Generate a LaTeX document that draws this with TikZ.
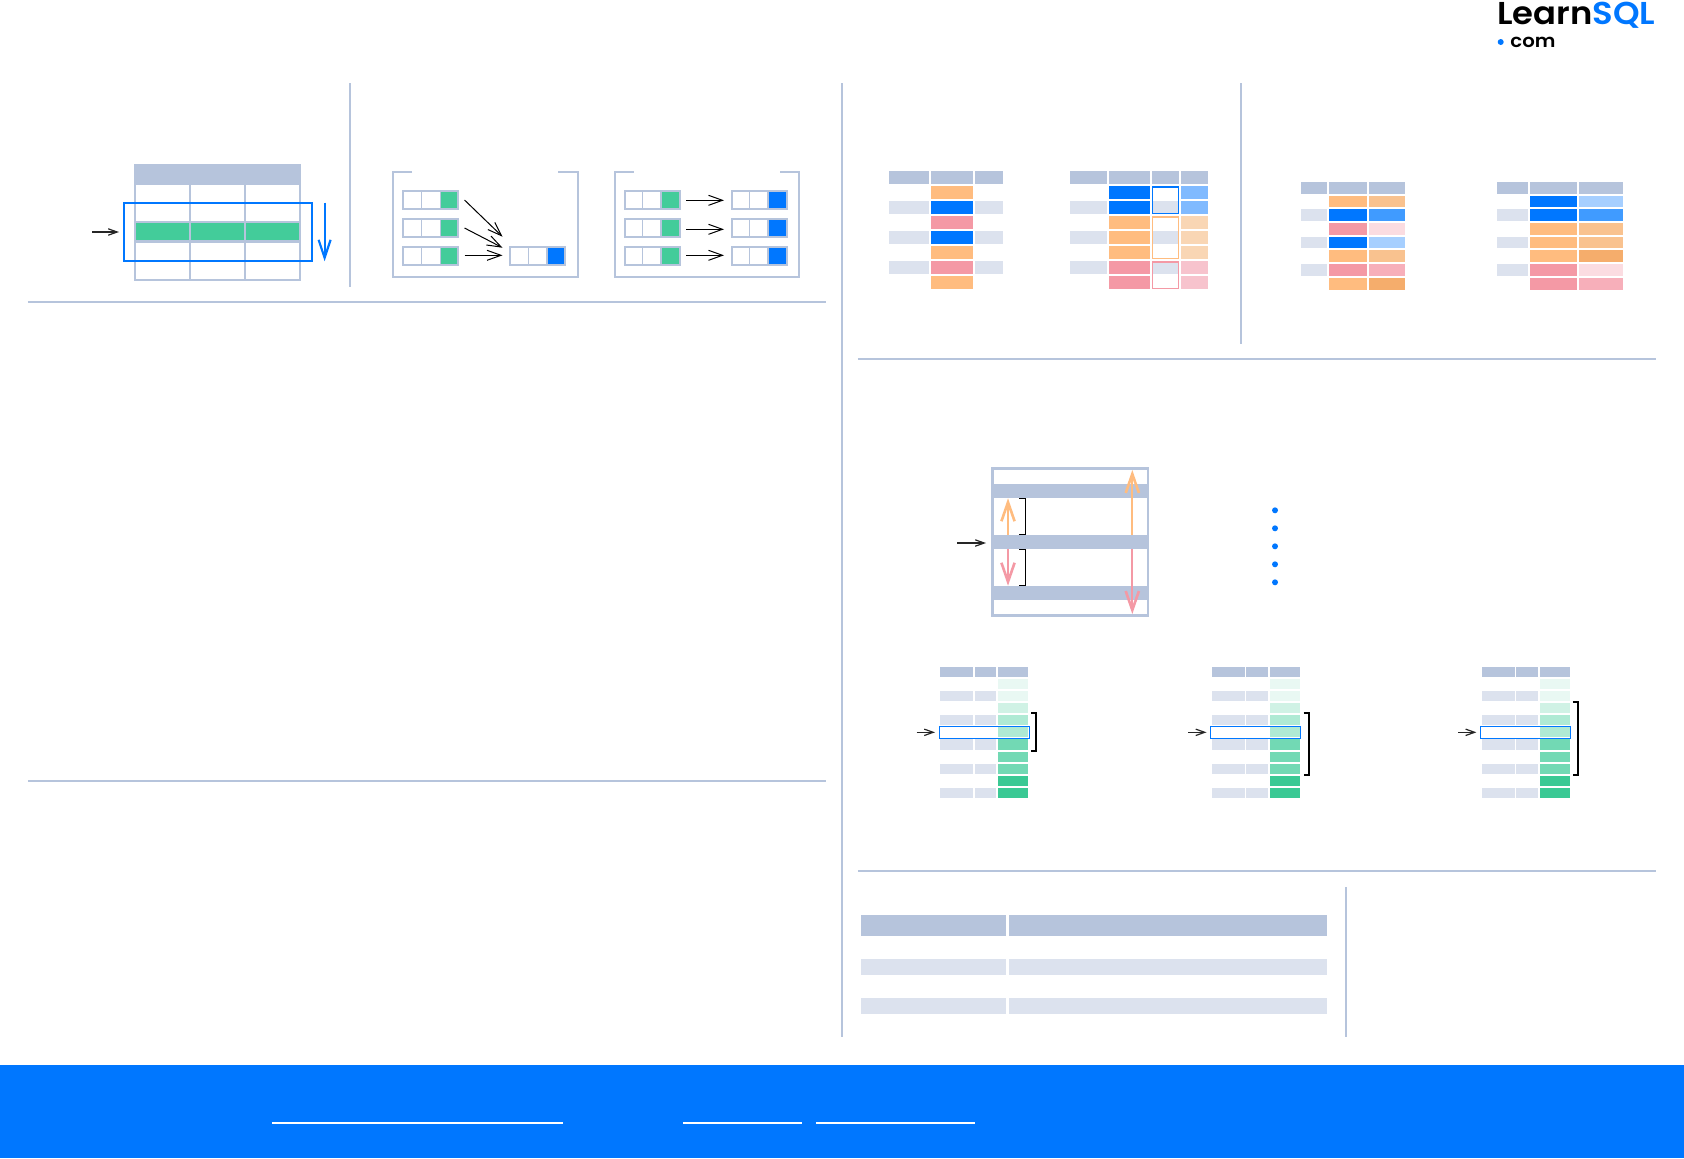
\documentclass[tikz,border=0pt]{standalone}
\usepackage{fontspec}
\usetikzlibrary{arrows.meta}
\newfontfamily\logofont[BoldFont=Poppins SemiBold,BoldFeatures={FakeStretch=1.07}]{Poppins}
\definecolor{hd}{HTML}{B6C4DC}
\definecolor{lt}{HTML}{DCE2EE}
\definecolor{grn}{HTML}{43CC9A}
\definecolor{blu}{HTML}{0077FF}
\definecolor{org}{HTML}{FFBC7F}
\definecolor{pnk}{HTML}{F499A5}
\definecolor{lblu}{HTML}{80BAFF}
\definecolor{lorg}{HTML}{F9D6B4}
\definecolor{lpnk}{HTML}{F7C3CD}
\definecolor{tan}{HTML}{F9C28F}
\definecolor{mblu}{HTML}{409BFF}
\definecolor{pblu}{HTML}{A6CFFF}
\definecolor{ppnk}{HTML}{FBDCE1}
\definecolor{mpnk}{HTML}{F7AFBA}
\definecolor{dorg}{HTML}{F5AD6C}
\definecolor{ga}{HTML}{E9F8F3}
\definecolor{gb}{HTML}{D0F2E5}
\definecolor{gc}{HTML}{AFEAD4}
\definecolor{gd}{HTML}{72D9B4}
\definecolor{ge}{HTML}{3AC994}
\newcommand{\rc}[5]{\fill[#1] (#2,#3) rectangle (#4,#5);}
% small three-cell table: x0, y0, sep1, sep2, x1, fill colour, fill left, fill right
\newcommand{\smt}[8]{%
  \fill[#6] (#7,#2+2) rectangle (#8,#2+18.7);
  \draw[rule] (#3,#2+1) -- (#3,#2+19);
  \draw[rule] (#4,#2+1) -- (#4,#2+19);
  \draw[rule,line width=1pt] (#1+1,#2+1) rectangle (#5-1,#2+18.7);
}
\tikzset{
  x=0.5pt,y=-0.5pt,
  rule/.style={draw=hd,line width=0.6pt},
  sep/.style={draw=hd,line width=1pt},
  thinarrow/.style={draw=black,line width=0.5pt,-{Straight Barb[length=7pt,width=5pt,line width=0.5pt]}},
  tinyarrow/.style={draw=black!85,line width=0.7pt,-{Straight Barb[length=4.5pt,width=3.2pt,line width=0.6pt]}},
  darrow/.style={draw=#1,line width=1.1pt,-{Straight Barb[length=9.5pt,width=6.6pt,line width=1.3pt]}},
  brk/.style={draw=black,line width=0.55pt},
  brkb/.style={draw=black,line width=1pt},
}
\begin{document}
\begin{tikzpicture}
\useasboundingbox (0,0) rectangle (1684,1158);
\fill[white] (0,0) rectangle (1684,1158);

% logo
\node[inner sep=0pt,anchor=base west,font=\logofont\bfseries\fontsize{15.8}{16}\selectfont] (logomain) at (1497,24) {Learn\textcolor{blu}{SQL}};
\fill[blu] (1500.7,42) circle (3);
\node[inner sep=0pt,anchor=base west,font=\logofont\bfseries\fontsize{9.2}{10}\selectfont] (logocom) at (1510,47) {com};

% dividers
\draw[sep] (27.9,302.3) -- (826,302.3);
\draw[sep] (27.9,781) -- (826,781);
\draw[sep] (349.8,83.3) -- (349.8,286.7);
\draw[sep] (842,83.3) -- (842,1036.7);
\draw[sep] (1241,83.3) -- (1241,343.7);
\draw[sep] (857.8,359) -- (1656,359);
\draw[sep] (857.8,871) -- (1656,871);
\draw[sep] (1345.6,887) -- (1345.6,1036.7);

% ===== sliding row table
\rc{hd}{134}{164}{300.5}{185}
\rc{hd}{134}{221}{300.5}{242.7}
\foreach \a/\b in {136/189,191/244,246/299}{\fill[grn] (\a,223.3) rectangle (\b,240);}
\draw[sep] (135,185) -- (135,279.5) -- (299.5,279.5) -- (299.5,185);
\draw[sep] (190,185) -- (190,279);
\draw[sep] (245,185) -- (245,279);
\draw[draw=blu,line width=1pt] (123.7,202.7) rectangle (312.3,261.3);
\coordinate (fa) at (324.6,202.7); \coordinate (fb) at (324.6,261.3);
\draw[draw=blu,line width=1pt,-{Straight Barb[length=9pt,width=6pt,line width=1.1pt]}] (fa) -- (fb);
\coordinate (ca) at (92,232); \coordinate (cb) at (119,232);
\draw[tinyarrow] (ca) -- (cb);

% ===== group by diagram
\foreach \x/\xe/\st in {392.7/577.5/0,614.5/799.3/0}{
  \pgfmathsetmacro{\sa}{\x+19.3}\pgfmathsetmacro{\sb}{\xe-19.3}
  \draw[sep] (\sa,171.7) -- (\x,171.7) -- (\x,277.3) -- (\xe,277.3) -- (\xe,171.7) -- (\sb,171.7);
}
\foreach \y in {190,218,246}{
  \smt{401.8}{\y}{421.6}{440.4}{459}{grn}{441.4}{458}
  \smt{624}{\y}{642.3}{661}{681}{grn}{662}{679}
  \smt{731}{\y}{749.5}{768}{788}{blu}{769}{786}
}
\smt{509}{246}{528.7}{547}{566}{blu}{548}{565}
\coordinate (ga) at (464.5,200);\coordinate (gb) at (502.5,236.7);
\coordinate (gc) at (464.5,228);\coordinate (gd) at (502.5,247.7);
\coordinate (ge) at (464.5,255.3);\coordinate (gf) at (502.5,255.3);
\draw[thinarrow] (ga) -- (gb);
\draw[thinarrow] (gc) -- (gd);
\draw[thinarrow] (ge) -- (gf);
\coordinate (pa) at (686,200.3);\coordinate (pb) at (724,200.3);
\coordinate (pc) at (686,229.3);\coordinate (pd) at (724,229.3);
\coordinate (pe) at (686,255.3);\coordinate (pf) at (724,255.3);
\draw[thinarrow] (pa) -- (pb);
\draw[thinarrow] (pc) -- (pd);
\draw[thinarrow] (pe) -- (pf);

% ===== table A
\foreach \a/\b in {889/928.8,931/973,975/1003}{\fill[hd] (\a,171) rectangle (\b,184);}
\foreach \n/\c in {0/org,1/blu,2/pnk,3/blu,4/org,5/pnk,6/org}{
  \fill[\c] (931,186+15*\n) rectangle (973,199+15*\n);}
\foreach \n in {1,3,5}{
  \fill[lt] (889,186+15*\n) rectangle (928.8,199+15*\n);
  \fill[lt] (975,186+15*\n) rectangle (1003,199+15*\n);}

% ===== table B
\foreach \a/\b in {1069.8/1107,1109/1150,1152/1179,1181/1208}{\fill[hd] (\a,171) rectangle (\b,184);}
\foreach \n/\c/\d in {0/blu/lblu,1/blu/lblu,2/org/lorg,3/org/lorg,4/org/lorg,5/pnk/lpnk,6/pnk/lpnk}{
  \fill[\c] (1109,186+15*\n) rectangle (1150,199+15*\n);
  \fill[\d] (1181,186+15*\n) rectangle (1208,199+15*\n);}
\foreach \n in {1,3,5}{
  \fill[lt] (1069.8,186+15*\n) rectangle (1107,199+15*\n);
  \fill[lt] (1152,186+15*\n) rectangle (1179,199+15*\n);}
\foreach \ya/\yb/\c in {186/214/blu,216/259/org,261/289/pnk}{
  \fill[\c] (1152.3,\ya) rectangle (1179,\ya+2);
  \draw[draw=\c,line width=0.5pt] (1152.7,\ya+1.5) rectangle (1178.5,\yb-0.5);
}

% ===== table C
\foreach \a/\b in {1300.8/1327,1328.8/1367,1369/1405}{\fill[hd] (\a,182) rectangle (\b,194);}
\foreach \ya/\yb/\c/\d in {196/207/org/tan,209/220.7/blu/mblu,223/234.7/pnk/ppnk,237/248/blu/pblu,250/262/org/tan,264/276/pnk/mpnk,278/290/org/dorg}{
  \fill[\c] (1328.8,\ya) rectangle (1367,\yb);
  \fill[\d] (1369,\ya) rectangle (1405,\yb);}
\foreach \ya/\yb in {209/220.7,237/248,264/276}{\fill[lt] (1300.8,\ya) rectangle (1327,\yb);}

% ===== table D
\foreach \a/\b in {1497/1528,1530/1577,1579/1623}{\fill[hd] (\a,182) rectangle (\b,194);}
\foreach \ya/\yb/\c/\d in {196/207/blu/pblu,209/220.7/blu/mblu,223/234.7/org/tan,237/248/org/tan,250/262/org/dorg,264/276/pnk/ppnk,278/290/pnk/mpnk}{
  \fill[\c] (1530,\ya) rectangle (1577,\yb);
  \fill[\d] (1579,\ya) rectangle (1623,\yb);}
\foreach \ya/\yb in {209/220.7,237/248,264/276}{\fill[lt] (1497,\ya) rectangle (1528,\yb);}

% ===== frame diagram
\fill[hd] (992.3,484) rectangle (1149,498);
\fill[hd] (992.3,535) rectangle (1149,549);
\fill[hd] (992.3,586) rectangle (1149,600);
\draw[draw=hd,line width=1.2pt] (992.4,468.5) rectangle (1148.2,615.5);
\coordinate (ua) at (1008,535);\coordinate (ub) at (1008,498.3);
\coordinate (da) at (1008,549);\coordinate (db) at (1008,585.7);
\coordinate (tua) at (1132.3,535);\coordinate (tub) at (1132.3,470);
\coordinate (tda) at (1132.3,549);\coordinate (tdb) at (1132.3,614);
\draw[darrow=org] (ua) -- (ub);
\draw[darrow=pnk] (da) -- (db);
\draw[darrow=org] (tua) -- (tub);
\draw[darrow=pnk] (tda) -- (tdb);
\draw[brk] (1019,498.3) -- (1025.7,498.3) -- (1025.7,534.7) -- (1019,534.7);
\draw[brk] (1019,549.3) -- (1025.7,549.3) -- (1025.7,585.7) -- (1019,585.7);
\coordinate (ra) at (957.3,543);\coordinate (rb) at (986,543);
\draw[tinyarrow] (ra) -- (rb);
\foreach \y in {510.3,528.3,546.3,564.3,582.3}{\fill[blu] (1275,\y) circle (3);}

% ===== frame tables
\foreach \xa/\xb/\xc/\xd/\xe/\xf/\fa/\fb/\aa/\ab/\ba/\bb/\by/\bz/\nm in {
 940.2/972.9/974.9/995.8/997.9/1028/939.7/1029.5/916.7/935/1031/1036/713.3/751.3/a,
 1212/1244.8/1245.8/1267.8/1269.8/1300/1210.6/1300.4/1188/1206.5/1303.5/1308.6/713.3/775.3/b,
 1482/1515/1516/1538/1540/1570/1480.5/1570.3/1458/1476.4/1572.8/1578/702.3/775.3/c}{
  \foreach \a/\b in {\xa/\xb,\xc/\xd,\xe/\xf}{\fill[hd] (\a,667) rectangle (\b,677);}
  \foreach \ya/\yb/\c in {679/689/ga,691/701/ga,703/713/gb,715/725/gc,727/737/gc,739/750/gd,752/762/gd,764/774/gd,776/786/ge,788/798/ge}{
    \fill[\c] (\xe,\ya) rectangle (\xf,\yb);}
  \foreach \ya/\yb in {691/701,715/725,739/750,764/774,788/798}{
    \fill[lt] (\xa,\ya) rectangle (\xb,\yb);
    \fill[lt] (\xc,\ya) rectangle (\xd,\yb);}
  \draw[draw=blu,line width=0.5pt] (\fa,726.3) rectangle (\fb,738.3);
  \coordinate (w\nm a) at (\aa,732.3);\coordinate (w\nm b) at (\ab,732.3);
  \draw[tinyarrow] (w\nm a) -- (w\nm b);
  \draw[brkb] (\ba,\by) -- (\bb,\by) -- (\bb,\bz) -- (\ba,\bz);
}

% ===== function table
\foreach \ya/\yb/\c in {915/936/hd,959/975/lt,998/1014/lt}{
  \fill[\c] (861,\ya) rectangle (1006,\yb);
  \fill[\c] (1008.7,\ya) rectangle (1327,\yb);}

% ===== footer
\fill[blu] (0,1065) rectangle (1684,1158);
\draw[white,line width=1pt] (272,1123) -- (563.3,1123);
\draw[white,line width=1pt] (683.3,1123) -- (801.8,1123);
\draw[white,line width=1pt] (815.8,1123) -- (975,1123);
\end{tikzpicture}
\end{document}
